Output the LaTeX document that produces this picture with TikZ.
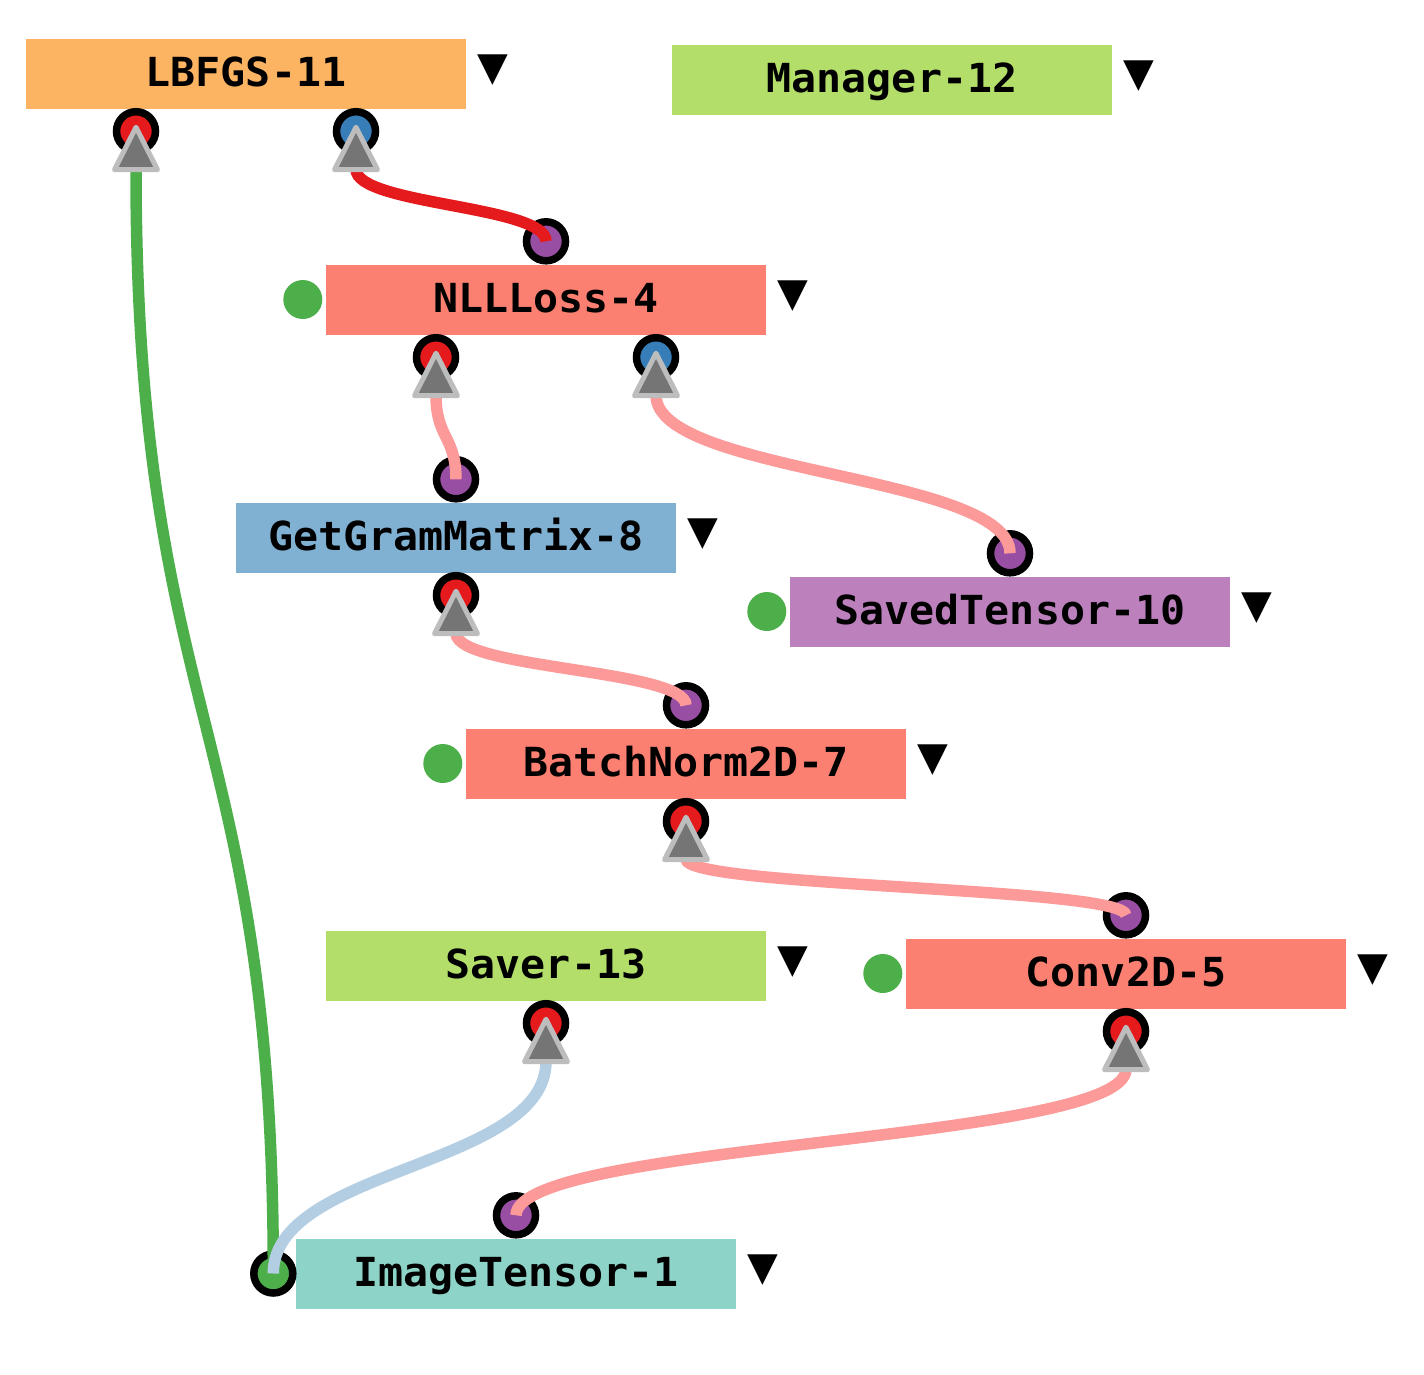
\documentclass[tikz,border=0pt]{standalone}
\usepackage{fontspec}
\newfontfamily\labelfont{DejaVu Sans Mono}[FakeStretch=1.04]
\newfontfamily\markfont{DejaVu Sans}

\definecolor{boxorange}{HTML}{FDB462}
\definecolor{boxlime}{HTML}{B3DE69}
\definecolor{boxsalmon}{HTML}{FB8072}
\definecolor{boxblue}{HTML}{80B1D3}
\definecolor{boxpurple}{HTML}{BC80BD}
\definecolor{boxteal}{HTML}{8DD3C7}
\definecolor{portred}{HTML}{E41A1C}
\definecolor{portblue}{HTML}{377EB8}
\definecolor{portpurple}{HTML}{984EA3}
\definecolor{portgreen}{HTML}{4DAF4A}
\definecolor{edgepink}{HTML}{FB9A99}
\definecolor{edgeblue}{HTML}{B3CDE3}
\definecolor{trigray}{HTML}{757575}
\definecolor{triborder}{HTML}{BDBDBD}

\tikzset{
  box/.style={fill=#1, minimum width=440pt, minimum height=70pt, inner sep=0pt,
    text height=29pt, text depth=4pt, font=\labelfont\bfseries\fontsize{40}{48}\selectfont},
  dropmark/.style={inner sep=0pt, font=\markfont\fontsize{40}{40}\selectfont},
  sidedot/.style={circle, fill=portgreen, minimum size=39pt, inner sep=0pt},
  port/.style={circle, draw=black, line width=7.5pt, fill=#1, minimum size=39pt, inner sep=0pt},
  link/.style={line width=11.5pt, draw=#1},
  outtri/.pic={\filldraw[fill=trigray, draw=triborder, line width=5pt, line join=round]
    (0,-4) -- (21.5,38.5) -- (-21.5,38.5) -- cycle;}
}

\begin{document}
\begin{tikzpicture}[x=1pt,y=-1pt]
  \useasboundingbox (0,0) rectangle (1424,1374);

  % boxes
  \node[box=boxorange] (lbfgs) at (246,73.5) {LBFGS-11};
  \node[box=boxlime] (manager) at (892,79.5) {Manager-12};
  \node[box=boxsalmon] (nllloss) at (546,299.5) {NLLLoss-4};
  \node[box=boxblue] (gram) at (456,537.5) {GetGramMatrix-8};
  \node[box=boxpurple] (saved) at (1010,611.5) {SavedTensor-10};
  \node[box=boxsalmon] (batch) at (686,763.5) {BatchNorm2D-7};
  \node[box=boxlime] (saver) at (546,965.5) {Saver-13};
  \node[box=boxsalmon] (conv) at (1126,973.5) {Conv2D-5};
  \node[box=boxteal] (image) at (516,1273.5) {ImageTensor-1};

  \foreach \n in {lbfgs,manager,nllloss,gram,saved,batch,saver,conv,image}
    \node[dropmark] (\n-mark) at ([xshift=26.5pt,yshift=3pt]\n.east) {▼};

  \foreach \n in {nllloss,saved,batch,conv}
    \node[sidedot] (\n-dot) at ([xshift=-23pt]\n.west) {};

  % ports
  \node[port=portred] (lbfgs-o1) at ([xshift=-110pt,yshift=-22.5pt]lbfgs.south) {};
  \node[port=portblue] (lbfgs-o2) at ([xshift=110pt,yshift=-22.5pt]lbfgs.south) {};
  \node[port=portpurple] (nllloss-in) at ([yshift=23pt]nllloss.north) {};
  \node[port=portred] (nllloss-o1) at ([xshift=-110pt,yshift=-22.5pt]nllloss.south) {};
  \node[port=portblue] (nllloss-o2) at ([xshift=110pt,yshift=-22.5pt]nllloss.south) {};
  \node[port=portpurple] (gram-in) at ([yshift=23pt]gram.north) {};
  \node[port=portred] (gram-out) at ([yshift=-22.5pt]gram.south) {};
  \node[port=portpurple] (saved-in) at ([yshift=23pt]saved.north) {};
  \node[port=portpurple] (batch-in) at ([yshift=23pt]batch.north) {};
  \node[port=portred] (batch-out) at ([yshift=-22.5pt]batch.south) {};
  \node[port=portred] (saver-out) at ([yshift=-22.5pt]saver.south) {};
  \node[port=portpurple] (conv-in) at ([yshift=23pt]conv.north) {};
  \node[port=portred] (conv-out) at ([yshift=-22.5pt]conv.south) {};
  \node[port=portpurple] (image-in) at ([yshift=23pt]image.north) {};
  \node[port=portgreen] (image-left) at ([xshift=-22.5pt]image.west) {};

  % links
  \draw[link=portred] ([yshift=-38pt]lbfgs-o2.center) .. controls +(0,36) and +(0,-36) .. (nllloss-in.center);
  \draw[link=edgepink] ([yshift=-38pt]nllloss-o1.center) .. controls +(0,43) and +(0,-43) .. (gram-in.center);
  \draw[link=edgepink] ([yshift=-38pt]nllloss-o2.center) .. controls +(0,79) and +(0,-79) .. (saved-in.center);
  \draw[link=edgepink] ([yshift=-38pt]gram-out.center) .. controls +(0,36) and +(0,-36) .. (batch-in.center);
  \draw[link=edgepink] ([yshift=-38pt]batch-out.center) .. controls +(0,28) and +(0,-28) .. (conv-in.center);
  \draw[link=edgepink] ([yshift=-38pt]conv-out.center) .. controls +(0,73) and +(0,-73) .. (image-in.center);
  \draw[link=portgreen] ([yshift=-38pt]lbfgs-o1.center) .. controls +(0,552) and +(0,-552) .. (image-left.center);
  \draw[link=edgeblue] ([yshift=-38pt]saver-out.center) .. controls +(0,106) and +(0,-106) .. (image-left.center);

  \foreach \p in {lbfgs-o1,lbfgs-o2,nllloss-o1,nllloss-o2,gram-out,batch-out,saver-out,conv-out}
    \pic at (\p) {outtri};
\end{tikzpicture}
\end{document}
